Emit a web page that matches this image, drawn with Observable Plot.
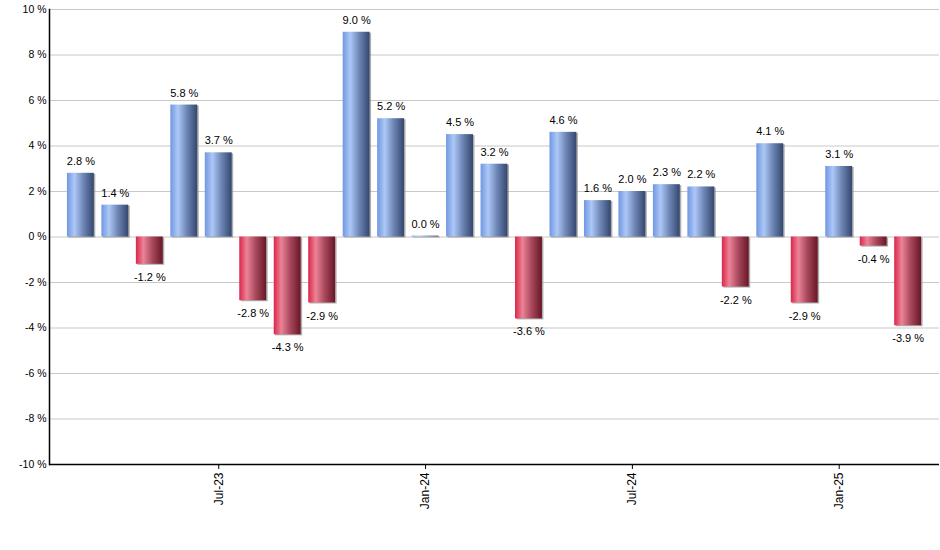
<!DOCTYPE html>
<html>
<head>
<meta charset="utf-8">
<script src="https://cdn.jsdelivr.net/npm/d3@7"></script>
<script src="https://cdn.jsdelivr.net/npm/@observablehq/plot@0.6"></script>
<style>
  html, body { margin: 0; padding: 0; background: #fff; }
</style>
</head>
<body>
<div id="chart"></div>
<script>
const months = ["Mar-23","Apr-23","May-23","Jun-23","Jul-23","Aug-23","Sep-23","Oct-23","Nov-23","Dec-23",
  "Jan-24","Feb-24","Mar-24","Apr-24","May-24","Jun-24","Jul-24","Aug-24","Sep-24","Oct-24",
  "Nov-24","Dec-24","Jan-25","Feb-25","Mar-25"];
const values = [2.8, 1.4, -1.2, 5.8, 3.7, -2.8, -4.3, -2.9, 9.0, 5.2,
  0.04, 4.5, 3.2, -3.6, 4.6, 1.6, 2.0, 2.3, 2.2, -2.2,
  4.1, -2.9, 3.1, -0.4, -3.9];
const xTickLabels = ["Jul-23", "Jan-24", "Jul-24", "Jan-25"];
const yTicks = [-10, -8, -6, -4, -2, 0, 2, 4, 6, 8, 10];

const data = months.map((m, i) => ({month: m, value: values[i]}));
const pos = data.filter(d => d.value >= 0);
const neg = data.filter(d => d.value < 0);
const fmt = d => d.value.toFixed(1) + " %";

const chart = Plot.plot({
  width: 940,
  height: 550,
  marginLeft: 49,
  marginRight: 1,
  marginTop: 9,
  marginBottom: 86,
  style: {fontFamily: "Arial, 'Liberation Sans', sans-serif", fontSize: "11px", color: "#000", background: "#fff"},
  x: {domain: months, paddingInner: 0.22, paddingOuter: 0.52, round: false, label: null},
  y: {domain: [-10, 10], label: null},
  marks: [
    Plot.gridY(yTicks, {stroke: "#c8c8c8", strokeOpacity: 1}),
    Plot.barY(data, {x: "month", y: "value", fill: "#8a8a8a", fillOpacity: 0.7, dx: 1.5, dy: 1}),
    Plot.barY(pos, {x: "month", y: "value", fill: "url(#gradBlue)"}),
    Plot.barY(neg, {x: "month", y: "value", fill: "url(#gradRed)"}),
    Plot.text(pos, {x: "month", y: "value", text: fmt, dy: -12, fontSize: 11, fill: "#000"}),
    Plot.text(neg, {x: "month", y: "value", text: fmt, dy: 13, fontSize: 11, fill: "#000"}),
    Plot.axisY(yTicks, {tickFormat: d => d + " %", tickSize: 0, tickPadding: 3, fontSize: 10.5, fill: "#000"}),
    Plot.axisX(xTickLabels, {tickRotate: -90, tickSize: 5, tickPadding: 3, fontSize: 12, stroke: "#000", fill: "#000", label: null}),
    Plot.ruleY([-10], {stroke: "#000", strokeWidth: 1.5}),
    Plot.frame({anchor: "left", stroke: "#000", strokeWidth: 1.5})
  ]
});

// gradient definitions for the bar fills
const svg = d3.select(chart);
const defs = svg.insert("defs", ":first-child");
function grad(id, stops) {
  const g = defs.append("linearGradient").attr("id", id).attr("x1", "0%").attr("x2", "100%").attr("y1", "0%").attr("y2", "0%");
  stops.forEach(([o, c]) => g.append("stop").attr("offset", o).attr("stop-color", c));
}
grad("gradBlue", [["0%", "#7097e2"], ["28%", "#adc8f6"], ["60%", "#7088b8"], ["100%", "#33476e"]]);
grad("gradRed", [["0%", "#d92649"], ["28%", "#ec8397"], ["60%", "#aa4a5f"], ["100%", "#691626"]]);

document.getElementById("chart").appendChild(chart);
</script>
</body>
</html>
